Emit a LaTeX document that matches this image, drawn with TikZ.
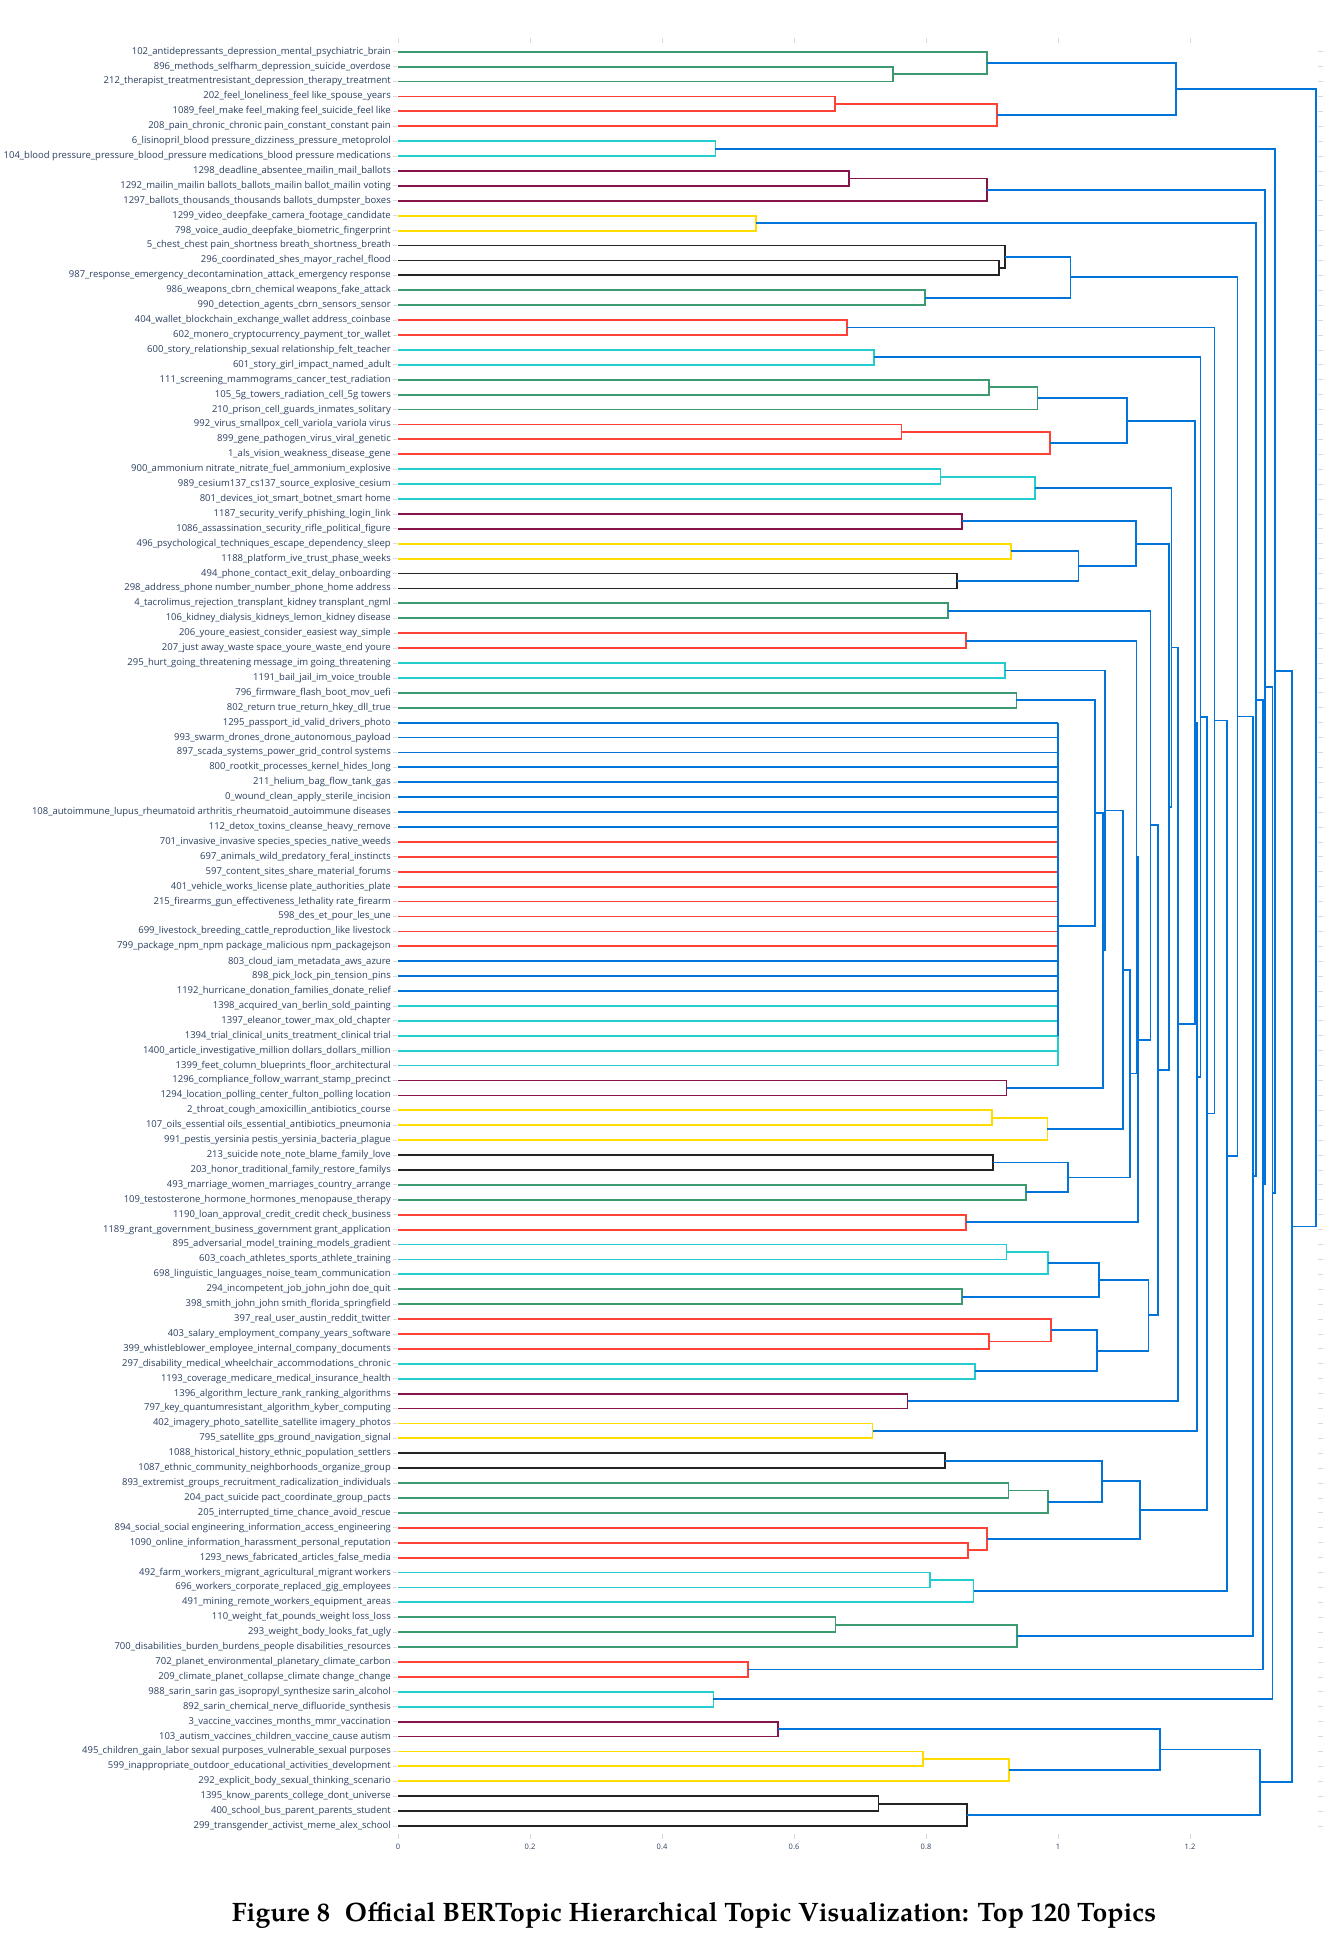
\documentclass[tikz,border=0pt]{standalone}
\usepackage{fontspec}
\setmainfont{Open Sans}
\newfontfamily\capfont{texgyrepagella}[Extension=.otf,UprightFont=*-regular,BoldFont=*-bold]
\usepackage{xcolor}
\definecolor{dgblue}{RGB}{0,116,217}
\definecolor{dggreen}{RGB}{61,153,112}
\definecolor{dgred}{RGB}{255,65,54}
\definecolor{dgcyan}{RGB}{35,205,205}
\definecolor{dgpurple}{RGB}{133,20,75}
\definecolor{dgyellow}{RGB}{255,220,0}
\definecolor{dgblack}{RGB}{40,35,35}
\definecolor{axisink}{RGB}{42,63,95}
\usepackage{tikz}
\usetikzlibrary{calc}
\tikzset{
  link/.style     ={line width=1.8pt,line join=miter},
  leaflabel/.style={anchor=east,inner sep=0pt,text=axisink,font=\fontsize{9.5}{11}\selectfont},
  tickmark/.style ={draw=gray!30,line width=0.8pt},
  ticklabel/.style={inner sep=0pt,text=axisink,font=\fontsize{7.5}{9}\selectfont},
}
% merge #2 and #3 into #1 at height #4
\newcommand\joinnodes[5]{%
  \coordinate (jx) at ({398+660*#4},0);
  \coordinate (jm) at ($(#2)!0.5!(#3)$);
  \coordinate (#1) at (jx |- jm);
  \draw[link,#5] (#2) -| (#1) |- (#3);}

\begin{document}
\begin{tikzpicture}[x=1pt,y=-1pt]
  \useasboundingbox (0,0) rectangle (1340,1945);
  % leaves
  \foreach \i/\lab in {
    0/102\_antidepressants\_depression\_mental\_psychiatric\_brain,
    1/896\_methods\_selfharm\_depression\_suicide\_overdose,
    2/212\_therapist\_treatmentresistant\_depression\_therapy\_treatment,
    3/202\_feel\_loneliness\_feel like\_spouse\_years,
    4/1089\_feel\_make feel\_making feel\_suicide\_feel like,
    5/208\_pain\_chronic\_chronic pain\_constant\_constant pain,
    6/6\_lisinopril\_blood pressure\_dizziness\_pressure\_metoprolol,
    7/104\_blood pressure\_pressure\_blood\_pressure medications\_blood pressure medications,
    8/1298\_deadline\_absentee\_mailin\_mail\_ballots,
    9/1292\_mailin\_mailin ballots\_ballots\_mailin ballot\_mailin voting,
    10/1297\_ballots\_thousands\_thousands ballots\_dumpster\_boxes,
    11/1299\_video\_deepfake\_camera\_footage\_candidate,
    12/798\_voice\_audio\_deepfake\_biometric\_fingerprint,
    13/5\_chest\_chest pain\_shortness breath\_shortness\_breath,
    14/296\_coordinated\_shes\_mayor\_rachel\_flood,
    15/987\_response\_emergency\_decontamination\_attack\_emergency response,
    16/986\_weapons\_cbrn\_chemical weapons\_fake\_attack,
    17/990\_detection\_agents\_cbrn\_sensors\_sensor,
    18/404\_wallet\_blockchain\_exchange\_wallet address\_coinbase,
    19/602\_monero\_cryptocurrency\_payment\_tor\_wallet,
    20/600\_story\_relationship\_sexual relationship\_felt\_teacher,
    21/601\_story\_girl\_impact\_named\_adult,
    22/111\_screening\_mammograms\_cancer\_test\_radiation,
    23/105\_5g\_towers\_radiation\_cell\_5g towers,
    24/210\_prison\_cell\_guards\_inmates\_solitary,
    25/992\_virus\_smallpox\_cell\_variola\_variola virus,
    26/899\_gene\_pathogen\_virus\_viral\_genetic,
    27/1\_als\_vision\_weakness\_disease\_gene,
    28/900\_ammonium nitrate\_nitrate\_fuel\_ammonium\_explosive,
    29/989\_cesium137\_cs137\_source\_explosive\_cesium,
    30/801\_devices\_iot\_smart\_botnet\_smart home,
    31/1187\_security\_verify\_phishing\_login\_link,
    32/1086\_assassination\_security\_rifle\_political\_figure,
    33/496\_psychological\_techniques\_escape\_dependency\_sleep,
    34/1188\_platform\_ive\_trust\_phase\_weeks,
    35/494\_phone\_contact\_exit\_delay\_onboarding,
    36/298\_address\_phone number\_number\_phone\_home address,
    37/4\_tacrolimus\_rejection\_transplant\_kidney transplant\_ngml,
    38/106\_kidney\_dialysis\_kidneys\_lemon\_kidney disease,
    39/206\_youre\_easiest\_consider\_easiest way\_simple,
    40/207\_just away\_waste space\_youre\_waste\_end youre,
    41/295\_hurt\_going\_threatening message\_im going\_threatening,
    42/1191\_bail\_jail\_im\_voice\_trouble,
    43/796\_firmware\_flash\_boot\_mov\_uefi,
    44/802\_return true\_return\_hkey\_dll\_true,
    45/1295\_passport\_id\_valid\_drivers\_photo,
    46/993\_swarm\_drones\_drone\_autonomous\_payload,
    47/897\_scada\_systems\_power\_grid\_control systems,
    48/800\_rootkit\_processes\_kernel\_hides\_long,
    49/211\_helium\_bag\_flow\_tank\_gas,
    50/0\_wound\_clean\_apply\_sterile\_incision,
    51/108\_autoimmune\_lupus\_rheumatoid arthritis\_rheumatoid\_autoimmune diseases,
    52/112\_detox\_toxins\_cleanse\_heavy\_remove,
    53/701\_invasive\_invasive species\_species\_native\_weeds,
    54/697\_animals\_wild\_predatory\_feral\_instincts,
    55/597\_content\_sites\_share\_material\_forums,
    56/401\_vehicle\_works\_license plate\_authorities\_plate,
    57/215\_firearms\_gun\_effectiveness\_lethality rate\_firearm,
    58/598\_des\_et\_pour\_les\_une,
    59/699\_livestock\_breeding\_cattle\_reproduction\_like livestock,
    60/799\_package\_npm\_npm package\_malicious npm\_packagejson,
    61/803\_cloud\_iam\_metadata\_aws\_azure,
    62/898\_pick\_lock\_pin\_tension\_pins,
    63/1192\_hurricane\_donation\_families\_donate\_relief,
    64/1398\_acquired\_van\_berlin\_sold\_painting,
    65/1397\_eleanor\_tower\_max\_old\_chapter,
    66/1394\_trial\_clinical\_units\_treatment\_clinical trial,
    67/1400\_article\_investigative\_million dollars\_dollars\_million,
    68/1399\_feet\_column\_blueprints\_floor\_architectural,
    69/1296\_compliance\_follow\_warrant\_stamp\_precinct,
    70/1294\_location\_polling\_center\_fulton\_polling location,
    71/2\_throat\_cough\_amoxicillin\_antibiotics\_course,
    72/107\_oils\_essential oils\_essential\_antibiotics\_pneumonia,
    73/991\_pestis\_yersinia pestis\_yersinia\_bacteria\_plague,
    74/213\_suicide note\_note\_blame\_family\_love,
    75/203\_honor\_traditional\_family\_restore\_familys,
    76/493\_marriage\_women\_marriages\_country\_arrange,
    77/109\_testosterone\_hormone\_hormones\_menopause\_therapy,
    78/1190\_loan\_approval\_credit\_credit check\_business,
    79/1189\_grant\_government\_business\_government grant\_application,
    80/895\_adversarial\_model\_training\_models\_gradient,
    81/603\_coach\_athletes\_sports\_athlete\_training,
    82/698\_linguistic\_languages\_noise\_team\_communication,
    83/294\_incompetent\_job\_john\_john doe\_quit,
    84/398\_smith\_john\_john smith\_florida\_springfield,
    85/397\_real\_user\_austin\_reddit\_twitter,
    86/403\_salary\_employment\_company\_years\_software,
    87/399\_whistleblower\_employee\_internal\_company\_documents,
    88/297\_disability\_medical\_wheelchair\_accommodations\_chronic,
    89/1193\_coverage\_medicare\_medical\_insurance\_health,
    90/1396\_algorithm\_lecture\_rank\_ranking\_algorithms,
    91/797\_key\_quantumresistant\_algorithm\_kyber\_computing,
    92/402\_imagery\_photo\_satellite\_satellite imagery\_photos,
    93/795\_satellite\_gps\_ground\_navigation\_signal,
    94/1088\_historical\_history\_ethnic\_population\_settlers,
    95/1087\_ethnic\_community\_neighborhoods\_organize\_group,
    96/893\_extremist\_groups\_recruitment\_radicalization\_individuals,
    97/204\_pact\_suicide pact\_coordinate\_group\_pacts,
    98/205\_interrupted\_time\_chance\_avoid\_rescue,
    99/894\_social\_social engineering\_information\_access\_engineering,
    100/1090\_online\_information\_harassment\_personal\_reputation,
    101/1293\_news\_fabricated\_articles\_false\_media,
    102/492\_farm\_workers\_migrant\_agricultural\_migrant workers,
    103/696\_workers\_corporate\_replaced\_gig\_employees,
    104/491\_mining\_remote\_workers\_equipment\_areas,
    105/110\_weight\_fat\_pounds\_weight loss\_loss,
    106/293\_weight\_body\_looks\_fat\_ugly,
    107/700\_disabilities\_burden\_burdens\_people disabilities\_resources,
    108/702\_planet\_environmental\_planetary\_climate\_carbon,
    109/209\_climate\_planet\_collapse\_climate change\_change,
    110/988\_sarin\_sarin gas\_isopropyl\_synthesize sarin\_alcohol,
    111/892\_sarin\_chemical\_nerve\_difluoride\_synthesis,
    112/3\_vaccine\_vaccines\_months\_mmr\_vaccination,
    113/103\_autism\_vaccines\_children\_vaccine\_cause autism,
    114/495\_children\_gain\_labor sexual purposes\_vulnerable\_sexual purposes,
    115/599\_inappropriate\_outdoor\_educational\_activities\_development,
    116/292\_explicit\_body\_sexual\_thinking\_scenario,
    117/1395\_know\_parents\_college\_dont\_universe,
    118/400\_school\_bus\_parent\_parents\_student,
    119/299\_transgender\_activist\_meme\_alex\_school}{
    \coordinate (l\i) at (398,{51.7+14.91*\i});
    \node[leaflabel] (t\i) at (391,{51.7+14.91*\i}) {\lab};
    \draw[tickmark] (393,{51.7+14.91*\i}) -- ++(4,0);
    \draw[tickmark] (1318,{51.7+14.91*\i}) -- ++(5,0);
  }
  % axis
  \foreach \k/\lab in {0/0,1/0.2,2/0.4,3/0.6,4/0.8,5/1,6/1.2}{
    \draw[tickmark] ({398+132*\k},38) -- ++(0,5);
    \draw[tickmark] ({398+132*\k},1834) -- ++(0,5);
    \node[ticklabel] (ax\k) at ({398+132*\k},1847) {\lab};
  }
  % flat cluster at height 1
  \coordinate (Q0) at (1058,925.7);
  \foreach \i/\c in {45/dgblue,46/dgblue,47/dgblue,48/dgblue,49/dgblue,50/dgblue,51/dgblue,52/dgblue,
                     53/dgred,54/dgred,55/dgred,56/dgred,57/dgred,58/dgred,59/dgred,60/dgred,
                     61/dgblue,62/dgblue,63/dgblue,64/dgcyan,65/dgcyan,66/dgcyan,67/dgcyan,68/dgcyan}
    \draw[link,\c] (l\i) -- (l\i -| Q0);
  \draw[link,dgblue] (l45 -| Q0) -- (l66 -| Q0);
  \draw[link,dgcyan] (l66 -| Q0) -- (l68 -| Q0);
  % coloured clusters
  \joinnodes{a12}{l1}{l2}{0.750}{dggreen}
  \joinnodes{ag}{l0}{a12}{0.893}{dggreen}
  \joinnodes{a34}{l3}{l4}{0.662}{dgred}
  \joinnodes{ar}{a34}{l5}{0.907}{dgred}
  \joinnodes{B}{l6}{l7}{0.481}{dgcyan}
  \joinnodes{c89}{l8}{l9}{0.683}{dgpurple}
  \joinnodes{C}{c89}{l10}{0.893}{dgpurple}
  \joinnodes{D}{l11}{l12}{0.543}{dgyellow}
  \joinnodes{e1415}{l14}{l15}{0.910}{dgblack}
  \joinnodes{E}{l13}{e1415}{0.920}{dgblack}
  \joinnodes{F}{l16}{l17}{0.798}{dggreen}
  \joinnodes{G}{l18}{l19}{0.680}{dgred}
  \joinnodes{H}{l20}{l21}{0.721}{dgcyan}
  \joinnodes{i2223}{l22}{l23}{0.895}{dggreen}
  \joinnodes{Ig}{i2223}{l24}{0.969}{dggreen}
  \joinnodes{i2526}{l25}{l26}{0.763}{dgred}
  \joinnodes{Ir}{i2526}{l27}{0.988}{dgred}
  \joinnodes{j2829}{l28}{l29}{0.822}{dgcyan}
  \joinnodes{J}{j2829}{l30}{0.965}{dgcyan}
  \joinnodes{K1}{l31}{l32}{0.854}{dgpurple}
  \joinnodes{K2a}{l33}{l34}{0.929}{dgyellow}
  \joinnodes{K2b}{l35}{l36}{0.847}{dgblack}
  \joinnodes{L}{l37}{l38}{0.833}{dggreen}
  \joinnodes{M}{l39}{l40}{0.861}{dgred}
  \joinnodes{N}{l41}{l42}{0.920}{dgcyan}
  \joinnodes{O}{l43}{l44}{0.937}{dggreen}
  \joinnodes{Q}{l69}{l70}{0.922}{dgpurple}
  \joinnodes{t7172}{l71}{l72}{0.900}{dgyellow}
  \joinnodes{T}{t7172}{l73}{0.984}{dgyellow}
  \joinnodes{v7475}{l74}{l75}{0.901}{dgblack}
  \joinnodes{v7677}{l76}{l77}{0.952}{dggreen}
  \joinnodes{x7879}{l78}{l79}{0.861}{dgred}
  \joinnodes{y8081}{l80}{l81}{0.922}{dgcyan}
  \joinnodes{Ya}{y8081}{l82}{0.985}{dgcyan}
  \joinnodes{Yb}{l83}{l84}{0.854}{dggreen}
  \joinnodes{y8687}{l86}{l87}{0.895}{dgred}
  \joinnodes{Yc}{l85}{y8687}{0.989}{dgred}
  \joinnodes{Yd}{l88}{l89}{0.874}{dgcyan}
  \joinnodes{Z1}{l90}{l91}{0.772}{dgpurple}
  \joinnodes{Z2}{l92}{l93}{0.719}{dgyellow}
  \joinnodes{z9495}{l94}{l95}{0.829}{dgblack}
  \joinnodes{z9697}{l96}{l97}{0.925}{dggreen}
  \joinnodes{Zg}{z9697}{l98}{0.985}{dggreen}
  \joinnodes{z100}{l100}{l101}{0.864}{dgred}
  \joinnodes{Zr}{l99}{z100}{0.893}{dgred}
  \joinnodes{z102}{l102}{l103}{0.806}{dgcyan}
  \joinnodes{Z4}{z102}{l104}{0.872}{dgcyan}
  \joinnodes{z105}{l105}{l106}{0.663}{dggreen}
  \joinnodes{Z5}{z105}{l107}{0.938}{dggreen}
  \joinnodes{Z6}{l108}{l109}{0.530}{dgred}
  \joinnodes{Z7}{l110}{l111}{0.478}{dgcyan}
  \joinnodes{Z8}{l112}{l113}{0.576}{dgpurple}
  \joinnodes{z114}{l114}{l115}{0.795}{dgyellow}
  \joinnodes{Z9}{z114}{l116}{0.926}{dgyellow}
  \joinnodes{z117}{l117}{l118}{0.728}{dgblack}
  \joinnodes{Z10}{z117}{l119}{0.862}{dgblack}
  % upper levels
  \joinnodes{A}{ag}{ar}{1.179}{dgblue}
  \joinnodes{EF}{E}{F}{1.019}{dgblue}
  \joinnodes{I}{Ig}{Ir}{1.104}{dgblue}
  \joinnodes{K2}{K2a}{K2b}{1.031}{dgblue}
  \joinnodes{K}{K1}{K2}{1.118}{dgblue}
  \joinnodes{P}{O}{Q0}{1.056}{dgblue}
  \joinnodes{R}{P}{Q}{1.068}{dgblue}
  \joinnodes{S}{N}{R}{1.071}{dgblue}
  \joinnodes{U}{S}{T}{1.099}{dgblue}
  \joinnodes{V}{v7475}{v7677}{1.015}{dgblue}
  \joinnodes{W}{U}{V}{1.109}{dgblue}
  \joinnodes{MW}{M}{W}{1.119}{dgblue}
  \joinnodes{MX}{MW}{x7879}{1.121}{dgblue}
  \joinnodes{LM}{L}{MX}{1.140}{dgblue}
  \joinnodes{Y1}{Ya}{Yb}{1.062}{dgblue}
  \joinnodes{Y2}{Yc}{Yd}{1.059}{dgblue}
  \joinnodes{Y}{Y1}{Y2}{1.137}{dgblue}
  \joinnodes{LY}{LM}{Y}{1.151}{dgblue}
  \joinnodes{KL}{K}{LY}{1.168}{dgblue}
  \joinnodes{JK}{J}{KL}{1.172}{dgblue}
  \joinnodes{JZ}{JK}{Z1}{1.182}{dgblue}
  \joinnodes{IJ}{I}{JZ}{1.208}{dgblue}
  \joinnodes{IZ}{IJ}{Z2}{1.211}{dgblue}
  \joinnodes{HI}{H}{IZ}{1.216}{dgblue}
  \joinnodes{Zbg}{z9495}{Zg}{1.067}{dgblue}
  \joinnodes{Z3}{Zbg}{Zr}{1.124}{dgblue}
  \joinnodes{HZ}{HI}{Z3}{1.226}{dgblue}
  \joinnodes{GH}{G}{HZ}{1.237}{dgblue}
  \joinnodes{GZ}{GH}{Z4}{1.256}{dgblue}
  \joinnodes{EG}{EF}{GZ}{1.272}{dgblue}
  \joinnodes{EZ}{EG}{Z5}{1.295}{dgblue}
  \joinnodes{DE}{D}{EZ}{1.300}{dgblue}
  \joinnodes{DZ}{DE}{Z6}{1.310}{dgblue}
  \joinnodes{CD}{C}{DZ}{1.314}{dgblue}
  \joinnodes{CZ}{CD}{Z7}{1.325}{dgblue}
  \joinnodes{BC}{B}{CZ}{1.329}{dgblue}
  \joinnodes{Z89}{Z8}{Z9}{1.154}{dgblue}
  \joinnodes{Zb}{Z89}{Z10}{1.306}{dgblue}
  \joinnodes{X}{BC}{Zb}{1.354}{dgblue}
  \joinnodes{root}{A}{X}{1.391}{dgblue}
  % caption
  \node (caption) at (694,1915) {\capfont\bfseries\fontsize{26.6}{30}\selectfont
    Figure 8\hspace{0.3em} Official BERTopic Hierarchical Topic Visualization: Top 120 Topics};
\end{tikzpicture}
\end{document}
